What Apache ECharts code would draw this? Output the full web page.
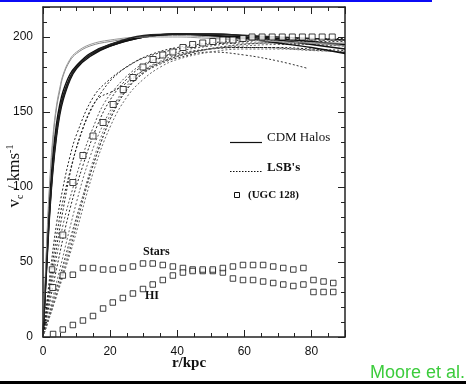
<!DOCTYPE html>
<html>
<head>
    <meta charset="utf-8" />
    <title></title>
    <script src="https://cdn.jsdelivr.net/npm/echarts@6/dist/echarts.min.js"></script>
    <style>
        html, body { margin: 0; padding: 0; background: #fff; }
        #divChart { width: 466px; height: 384px; }
    </style>
</head>
<body>
    <div id="divChart"></div>
    <script>
        // tick labels
        let xTicks = [0, 20, 40, 60, 80];
        let yTicks = [0, 50, 100, 150, 200];

        // CDM halo rotation curves, [r (kpc), v (km/s)]
        let cdm1 = [[0, 0], [1, 55], [2, 100], [3, 132], [4, 152], [5, 164], [6, 174], [8, 184], [10, 189], [14, 194], [20, 197], [30, 200], [40, 201], [50, 200], [60, 199], [70, 198], [80, 196], [90, 194]];
        let cdm2 = [[0, 0], [1, 48], [2, 92], [3, 122], [4, 142], [5, 155], [6, 164], [8, 175], [10, 181], [14, 189], [20, 195], [30, 200], [40, 202], [50, 201], [60, 200], [70, 198], [80, 195], [90, 192]];
        let cdm3 = [[0, 0], [1, 45], [2, 86], [3, 116], [4, 137], [5, 151], [6, 161], [8, 173], [10, 180], [14, 188], [20, 194], [30, 200], [40, 202], [50, 202], [60, 201], [70, 199], [80, 197], [90, 195]];
        let cdm4 = [[0, 0], [1, 42], [2, 82], [3, 112], [4, 133], [5, 148], [6, 158], [8, 171], [10, 179], [14, 187], [20, 194], [30, 200], [40, 202], [50, 201], [60, 199], [70, 196], [80, 193], [90, 189]];
        let cdm5 = [[0, 0], [1, 58], [2, 104], [3, 135], [4, 154], [5, 166], [6, 175], [8, 185], [10, 190], [14, 195], [20, 198], [30, 200], [40, 200], [50, 199], [60, 198], [70, 197], [80, 196], [90, 196]];
        let cdm6 = [[0, 0], [1, 44], [2, 84], [3, 114], [4, 135], [5, 150], [6, 160], [8, 172], [10, 180], [14, 188], [20, 195], [30, 201], [40, 202], [50, 202], [60, 201], [70, 200], [80, 199], [90, 198]];

        // LSB galaxy rotation curves
        let lsb1 = [[0, 0], [2, 40], [4, 75], [6, 100], [8, 120], [10, 135], [15, 160], [20, 172], [25, 180], [30, 186], [40, 192], [50, 195], [60, 197], [70, 198], [80, 198], [90, 198]];
        let lsb2 = [[0, 0], [3, 40], [6, 75], [9, 100], [12, 122], [15, 140], [18, 155], [22, 167], [26, 176], [30, 182], [40, 190], [50, 194], [60, 196], [70, 196], [80, 195], [90, 194]];
        let lsb3 = [[0, 0], [4, 45], [8, 85], [12, 115], [16, 140], [20, 158], [25, 172], [30, 181], [35, 186], [40, 189], [50, 192], [60, 193], [70, 193], [80, 192], [90, 191]];
        let lsb4 = [[0, 0], [5, 45], [10, 90], [14, 120], [18, 142], [22, 158], [26, 170], [30, 178], [35, 184], [40, 188], [50, 192], [60, 194], [70, 195], [80, 195], [90, 194]];
        let lsb5 = [[0, 0], [3, 45], [6, 85], [9, 118], [12, 140], [15, 155], [17, 160], [20, 163], [24, 168], [28, 175], [35, 183], [45, 190], [55, 193], [65, 193], [75, 192], [90, 190]];
        let lsb6 = [[0, 0], [5, 40], [10, 80], [15, 115], [20, 145], [25, 165], [30, 176], [35, 182], [40, 186], [50, 190], [60, 188], [70, 184], [79, 179]];
        let lsb7 = [[0, 0], [6, 45], [12, 95], [16, 125], [20, 148], [24, 163], [28, 173], [33, 181], [40, 187], [50, 192], [60, 195], [70, 196], [80, 196], [90, 195]];
        let lsb8 = [[0, 0], [7, 50], [13, 100], [17, 128], [21, 150], [25, 165], [30, 176], [36, 184], [45, 190], [55, 194], [65, 196], [80, 197], [90, 197]];
        let lsb9 = [[0, 0], [2, 35], [5, 80], [8, 110], [11, 133], [14, 150], [18, 165], [22, 175], [27, 183], [33, 189], [40, 193], [50, 196], [60, 198], [75, 199], [90, 199]];
        let lsb10 = [[0, 0], [8, 55], [15, 110], [20, 140], [25, 160], [30, 172], [35, 180], [40, 185], [50, 190], [60, 192], [70, 192], [80, 191], [90, 190]];

        // UGC 128 observed points
        let ugc128 = [[2.9, 33], [5.9, 68], [8.9, 103], [11.9, 121], [14.9, 134], [17.9, 143], [20.9, 155], [23.9, 165], [26.8, 173], [29.8, 180], [32.8, 185], [35.7, 188], [38.7, 190], [41.7, 193], [44.6, 195], [47.6, 196], [50.6, 197], [53.6, 198], [56.6, 198], [59.6, 199], [62.3, 200], [65.3, 200], [68.3, 200], [71.3, 200], [74.3, 200], [77.3, 200], [80.2, 200], [83.2, 200], [86.2, 200]];
        let stars = [[2.7, 45], [5.9, 41], [8.9, 41.5], [11.9, 46], [14.9, 46], [17.9, 45], [20.8, 45], [23.8, 46], [26.8, 47], [29.8, 49], [32.7, 49], [35.7, 48], [38.7, 47], [41.7, 46], [44.6, 45], [47.6, 44], [50.6, 44], [53.6, 43], [56.6, 39], [59.6, 38], [62.6, 38], [65.6, 37], [68.6, 36], [71.6, 35], [74.6, 34], [77.6, 35], [80.6, 30], [83.6, 30], [86.5, 30]];
        let hi = [[3, 2], [5.9, 5], [8.9, 8], [11.9, 11], [14.9, 14], [17.9, 19], [20.8, 23], [23.8, 26], [26.8, 29], [29.8, 32], [32.7, 35], [35.7, 38], [38.7, 41], [41.7, 43], [44.6, 44], [47.6, 45], [50.6, 45], [53.6, 46], [56.6, 47], [59.6, 48], [62.6, 48], [65.6, 48], [68.6, 47], [71.6, 46], [74.6, 45], [77.6, 46], [80.6, 38], [83.6, 37], [86.5, 36]];

        let cdmCurves = [cdm1, cdm2, cdm3, cdm4, cdm5, cdm6];
        let cdmColors = ['#888', '#111', '#111', '#111', '#999', '#222'];
        let lsbCurves = [lsb1, lsb2, lsb3, lsb4, lsb5, lsb6, lsb7, lsb8, lsb9, lsb10];
        let lsbColors = ['#222', '#555', '#222', '#666', '#222', '#333', '#777', '#444', '#222', '#666'];

        function InitChart() {
            let axisColor = '#222';
            let serif = '"Liberation Serif", "DejaVu Serif", serif';
            let sans = '"Liberation Sans", Arial, sans-serif';

            function xAx(pos, step, len, line, labels) {
                return {
                    type: 'value', position: pos, min: 0, max: 90, interval: step,
                    axisLine: { show: line, onZero: false, lineStyle: { color: axisColor, width: 1.5 } },
                    axisTick: { show: true, inside: true, length: len, lineStyle: { color: axisColor, width: 1 } },
                    axisLabel: labels ? {
                        margin: 9, fontSize: 12, color: '#111', fontFamily: sans,
                        formatter: function (v) { return xTicks.indexOf(v) >= 0 ? String(v) : ''; }
                    } : { show: false },
                    splitLine: { show: false }
                };
            }
            function yAx(pos, step, len, line, labels) {
                return {
                    type: 'value', position: pos, min: 0, max: 220, interval: step,
                    axisLine: { show: line, onZero: false, lineStyle: { color: axisColor, width: 1.5 } },
                    axisTick: { show: true, inside: true, length: len, lineStyle: { color: axisColor, width: 1 } },
                    axisLabel: labels ? {
                        margin: 10, fontSize: 12, color: '#111', fontFamily: sans,
                        formatter: function (v) { return yTicks.indexOf(v) >= 0 ? String(v) : ''; }
                    } : { show: false },
                    splitLine: { show: false }
                };
            }

            let xAxes = [xAx('bottom', 5, 4, true, true), xAx('bottom', 20, 7, false, false), xAx('top', 5, 4, true, false), xAx('top', 20, 7, false, false)];
            xAxes[0].name = 'r/kpc';
            xAxes[0].nameLocation = 'middle';
            xAxes[0].nameGap = 19;
            xAxes[0].nameMoveOverlap = false;
            xAxes[0].nameTextStyle = { fontFamily: serif, fontSize: 15, fontWeight: 'bold', color: '#111', padding: [0, 10, 0, 0] };

            let yAxes = [yAx('left', 10, 4, true, true), yAx('left', 50, 7, false, false), yAx('right', 10, 4, true, false), yAx('right', 50, 7, false, false)];

            let series = [];
            cdmCurves.forEach(function (d, i) {
                series.push({
                    type: 'line', data: d, smooth: 0.4, showSymbol: false, z: 3,
                    lineStyle: { color: cdmColors[i], width: i === 0 || i === 4 ? 1 : 1.4 }
                });
            });
            lsbCurves.forEach(function (d, i) {
                series.push({
                    type: 'line', data: d, smooth: 0.4, showSymbol: false, z: 2,
                    lineStyle: { color: lsbColors[i], width: 1, type: [2, 2] }
                });
            });
            series.push({
                type: 'scatter', data: ugc128, symbol: 'rect', symbolSize: 6, z: 5,
                itemStyle: { color: '#fff', borderColor: '#111', borderWidth: 1 }
            });
            series.push({
                type: 'scatter', data: stars, symbol: 'rect', symbolSize: 5.5, z: 5,
                itemStyle: { color: '#fff', borderColor: '#111', borderWidth: 1 }
            });
            series.push({
                type: 'scatter', data: hi, symbol: 'rect', symbolSize: 5.5, z: 5,
                itemStyle: { color: '#fff', borderColor: '#111', borderWidth: 1 }
            });

            var option = {
                backgroundColor: '#fff',
                animation: false,
                grid: { left: 43, right: 121, top: 7, bottom: 47, containLabel: false, outerBoundsMode: 'none' },
                xAxis: xAxes,
                yAxis: yAxes,
                series: series,
                graphic: [
                    { type: 'rect', shape: { x: 0, y: 0, width: 432, height: 2 }, style: { fill: '#0b0bf5' }, silent: true },
                    { type: 'rect', shape: { x: 0, y: 381, width: 466, height: 3 }, style: { fill: '#000' }, silent: true },
                    { type: 'text', x: 465, y: 373, style: { text: 'Moore et al.', fill: '#3ccc3c', font: '18px "Liberation Sans", Arial, sans-serif', align: 'right', verticalAlign: 'middle' } },
                    // y axis title
                    {
                        type: 'text', x: 15, y: 176, rotation: Math.PI / 2,
                        style: {
                            text: '{v|v}{c|c}{n| / kms}{s|-1}', align: 'center', verticalAlign: 'middle',
                            rich: {
                                v: { font: '17px "Liberation Serif", serif', lineHeight: 20, fill: '#111' },
                                n: { font: '17px "Liberation Serif", serif', lineHeight: 20, fill: '#111' },
                                c: { font: '10px "Liberation Serif", serif', lineHeight: 10, verticalAlign: 'bottom', fill: '#111' },
                                s: { font: '10px "Liberation Serif", serif', lineHeight: 10, verticalAlign: 'top', fill: '#111' }
                            }
                        }
                    },
                    // legend
                    { type: 'line', shape: { x1: 230, y1: 142.5, x2: 262, y2: 142.5 }, style: { stroke: '#111', lineWidth: 1.2 } },
                    { type: 'text', x: 267, y: 138, style: { text: 'CDM Halos', fill: '#111', font: '13px "Liberation Serif", serif', verticalAlign: 'middle' } },
                    { type: 'line', shape: { x1: 230, y1: 171.5, x2: 262, y2: 171.5 }, style: { stroke: '#111', lineWidth: 1, lineDash: [1.5, 1.5] } },
                    { type: 'text', x: 267, y: 168, style: { text: "LSB's", fill: '#111', font: 'bold 13px "Liberation Serif", serif', verticalAlign: 'middle' } },
                    { type: 'rect', shape: { x: 234.5, y: 192.5, width: 5, height: 5 }, style: { fill: '#fff', stroke: '#111', lineWidth: 1 } },
                    { type: 'text', x: 248, y: 195, style: { text: '(UGC 128)', fill: '#111', font: 'bold 11px "Liberation Serif", serif', verticalAlign: 'middle' } },
                    // profile labels
                    { type: 'text', x: 143, y: 252, style: { text: 'Stars', fill: '#111', font: 'bold 12px "Liberation Serif", serif', verticalAlign: 'middle' } },
                    { type: 'text', x: 145, y: 296, style: { text: 'HI', fill: '#111', font: 'bold 12px "Liberation Serif", serif', verticalAlign: 'middle' } }
                ]
            };
            echarts.init(document.getElementById('divChart')).setOption(option);
        }
        InitChart();
    </script>
</body>
</html>
